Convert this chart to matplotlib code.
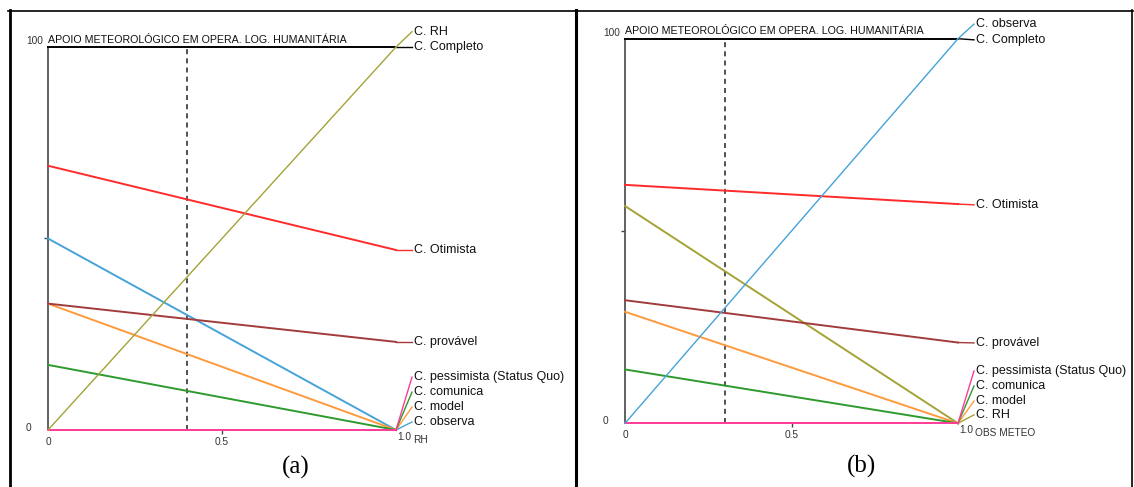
import numpy as np
import matplotlib
matplotlib.use('Agg')
import matplotlib.pyplot as plt
from matplotlib.lines import Line2D
import matplotlib.transforms as mtrans

plt.rcParams['font.family'] = ['Liberation Sans', 'DejaVu Sans']

x_ends = [0.0, 1.0]

# panel (a): sensitivity to RH
names_a = ['C. RH', 'C. Completo', 'C. Otimista', 'C. provável',
           'C. pessimista (Status Quo)', 'C. comunica', 'C. model', 'C. observa']
start_a = [0, 100, 69, 33, 0, 17, 33, 50]
end_a = [100, 100, 47, 23, 0, 0, 0, 0]
base_a = 0.40

# panel (b): sensitivity to OBS METEO
names_b = ['C. observa', 'C. Completo', 'C. Otimista', 'C. provável',
           'C. pessimista (Status Quo)', 'C. comunica', 'C. model', 'C. RH']
start_b = [0, 100, 62, 32, 0, 14, 29, 56.5]
end_b = [100, 100, 57, 21, 0, 0, 0, 0]
base_b = 0.30

colors = {'C. RH': '#a3a336', 'C. Completo': 'black', 'C. Otimista': '#ff2a2a',
          'C. provável': '#a23b3b', 'C. pessimista (Status Quo)': '#ff3b99',
          'C. comunica': '#2e9a2e', 'C. model': '#ff9a3c', 'C. observa': '#45a3d8'}

# label y positions (spread so they don't overlap)
lab_a = [104, 100, 47, 23, 13.8, 9.9, 6.0, 2.1]
lab_b = [103.8, 99.7, 56.8, 20.9, 13.6, 9.7, 5.8, 2.2]

title = 'APOIO METEOROLÓGICO EM OPERA. LOG. HUMANITÁRIA'

fig = plt.figure(figsize=(11.34, 4.87), dpi=100)
W, H = 1134.0, 487.0


def panel(rect, names, start, end, labs, base, xname, caption, cap_xy):
    ax = fig.add_axes(rect)
    ax.set_xlim(0, 1)
    ax.set_ylim(0, 100)
    for s in ['top', 'right', 'bottom']:
        ax.spines[s].set_visible(False)
    ax.spines['left'].set_color('#555555')
    ax.spines['left'].set_linewidth(1.3)
    ax.set_xticks([0.5])
    ax.set_xticklabels([])
    ax.set_yticks([50])
    ax.set_yticklabels([])
    ax.tick_params(length=3, width=1, color='#444444')
    ax.patch.set_visible(False)

    pw = rect[2] * W
    ph = rect[3] * H
    dx = 16.0 / pw  # leader length in data units

    ax.plot([base, base], [0, 100], color='#333333', lw=1.2,
            dashes=(3, 2.5), zorder=1)

    for i in reversed(range(len(names))):
        n = names[i]
        c = colors[n]
        lw = 1.0 if start[i] == 0 and end[i] == 100 else 1.4
        ax.plot(x_ends, [start[i], end[i]], color=c, lw=lw, clip_on=False, zorder=3)
        ax.plot([1, 1 + dx], [end[i], labs[i]], color=c, lw=1.0, clip_on=False, zorder=3)
        ax.text(1 + dx + 1.5 / pw, labs[i], n, fontsize=9, color='#111111',
                ha='left', va='center', clip_on=False)

    ax.text(0.0, 100.6, title, fontsize=7.7, color='#111111', ha='left', va='bottom')

    tr = mtrans.blended_transform_factory(ax.transAxes, ax.transData)
    ax.text(-22.0 / pw, 101.5, '100', fontsize=7.3, color='#333333', transform=tr,
            ha='left', va='center')
    ax.text(-22.0 / pw, 0.5, '0', fontsize=7.3, color='#333333', transform=tr,
            ha='left', va='center')
    ax.text(0.0, -12.0 / ph * 100, '0', fontsize=7.3, color='#333333',
            ha='center', va='center')
    ax.text(0.5, -12.0 / ph * 100, '0.5', fontsize=7.3, color='#333333',
            ha='center', va='center')
    ax.text(1 + 1.0 / pw, -7.0 / ph * 100, '1.0', fontsize=7.3, color='#333333',
            ha='left', va='center')
    ax.text(1 + dx + 1.0 / pw, -10.0 / ph * 100, xname, fontsize=7.3, color='#333333',
            ha='left', va='center')

    fig.text(cap_xy[0] / W, 1 - cap_xy[1] / H, caption, fontsize=18,
             family='Liberation Serif', ha='center', va='center')
    return ax


panel([48 / W, 1 - 430 / H, 348 / W, 383 / H], names_a, start_a, end_a, lab_a,
      base_a, 'RH', '(a)', (296, 467))
panel([625 / W, 1 - 423.3 / H, 333 / W, 384.6 / H], names_b, start_b, end_b, lab_b,
      base_b, 'OBS METEO', '(b)', (861, 466))

# table borders
fig.add_artist(Line2D([8 / W, 1133 / W], [1 - 10.5 / H] * 2, color='black', lw=1.2))
fig.add_artist(Line2D([9.5 / W] * 2, [0, 1 - 10 / H], color='black', lw=2.0))
fig.add_artist(Line2D([575.5 / W] * 2, [0, 1 - 10 / H], color='black', lw=2.2))
fig.add_artist(Line2D([1131.5 / W] * 2, [0, 1 - 10 / H], color='black', lw=1.2))

fig.savefig('out.png', dpi=100)
